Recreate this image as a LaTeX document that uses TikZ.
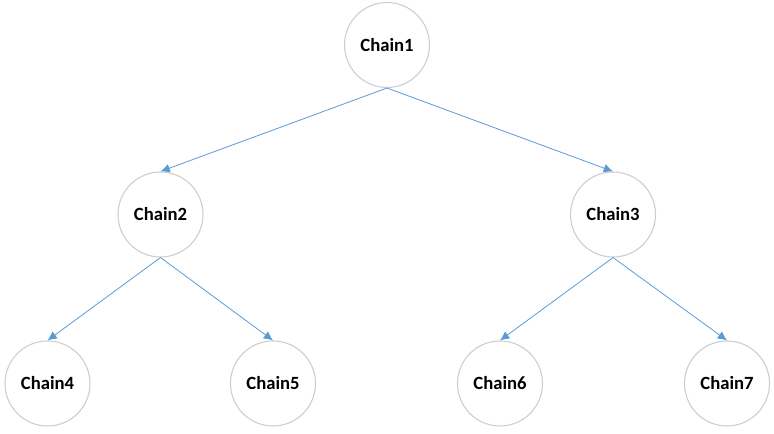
\documentclass[tikz,border=0pt]{standalone}
\usepackage{fontspec}
\setmainfont{Carlito}
\usetikzlibrary{shapes.geometric, arrows.meta}
\definecolor{linkblue}{RGB}{91,155,213}
\definecolor{ringgray}{RGB}{205,205,205}

\begin{document}
\begin{tikzpicture}[
    x=0.75pt, y=-0.75pt,
    chain/.style={circle, draw=ringgray, fill=white, line width=0.8pt, minimum size=63.75pt, inner sep=0pt, align=center, font=\fontsize{14}{17}\selectfont\bfseries},
    link/.style={draw=linkblue, line width=0.6pt, -{Latex[length=7pt, width=6.5pt]}}
]
    \useasboundingbox (0,0) rectangle (774,434);
    \node[chain] (chain1) at (387,45) {Chain1};
    \node[chain] (chain2) at (160.5,214.5) {Chain2};
    \node[chain] (chain3) at (613,214.5) {Chain3};
    \node[chain] (chain4) at (47.5,383.5) {Chain4};
    \node[chain] (chain5) at (273,383.5) {Chain5};
    \node[chain] (chain6) at (500,383.5) {Chain6};
    \node[chain] (chain7) at (727,383.5) {Chain7};

    \draw[link] (chain1.south) -- (chain2.north);
    \draw[link] (chain1.south) -- (chain3.north);
    \draw[link] (chain2.south) -- (chain4.north);
    \draw[link] (chain2.south) -- (chain5.north);
    \draw[link] (chain3.south) -- (chain6.north);
    \draw[link] (chain3.south) -- (chain7.north);
\end{tikzpicture}
\end{document}
